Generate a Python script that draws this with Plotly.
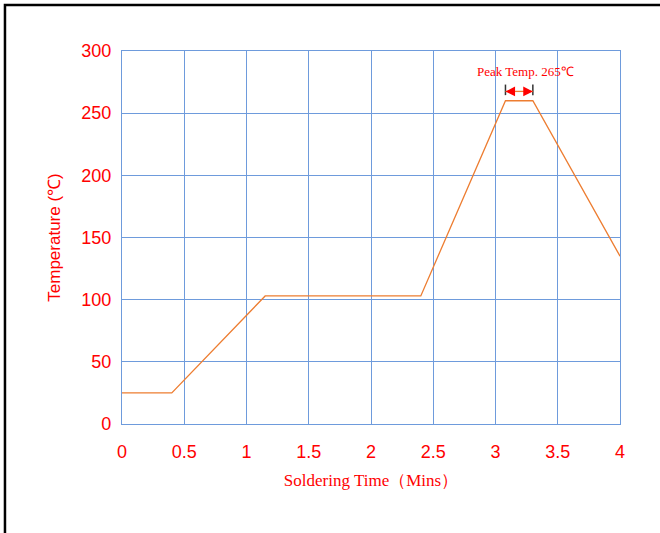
import plotly.graph_objects as go

time_min = [0, 0.4, 1.15, 2.4, 3.08, 3.3, 4]
temp_c = [25, 25, 103, 103, 260, 260, 135]
x_ticks = [0, 0.5, 1, 1.5, 2, 2.5, 3, 3.5, 4]
x_tick_labels = ["0", "0.5", "1", "1.5", "2", "2.5", "3", "3.5", "4"]
y_ticks = [0, 50, 100, 150, 200, 250, 300]
peak_start, peak_end = 3.08, 3.3
peak_label = "Peak Temp. 265℃"

RED = "#FF0000"
GRID = "#6E9BDC"
ORANGE = "#ED7D31"

fig = go.Figure()
fig.add_trace(go.Scatter(x=time_min, y=temp_c, mode="lines",
                         line=dict(color=ORANGE, width=1.3), hoverinfo="skip",
                         showlegend=False))

fig.update_layout(
    width=660, height=533,
    margin=dict(l=122, r=40, t=51, b=109),
    paper_bgcolor="white", plot_bgcolor="white",
    showlegend=False,
)
fig.update_xaxes(range=[0, 4], tickvals=x_ticks, ticktext=x_tick_labels,
                 showgrid=True, gridcolor=GRID, gridwidth=1.3,
                 showline=True, linecolor=GRID, linewidth=1.3, mirror=True,
                 zeroline=False, ticks="outside", ticklen=11, tickcolor="rgba(0,0,0,0)",
                 tickfont=dict(family="Liberation Sans", size=18, color=RED),
                 title=dict(text="Soldering Time（Mins）", standoff=13,
                            font=dict(family="Liberation Serif", size=17, color=RED)))
fig.update_yaxes(range=[0, 300], tickvals=y_ticks,
                 showgrid=True, gridcolor=GRID, gridwidth=1.3,
                 showline=True, linecolor=GRID, linewidth=1.3, mirror=True,
                 zeroline=False, ticks="outside", ticklen=6, tickcolor="rgba(0,0,0,0)",
                 tickfont=dict(family="Liberation Sans", size=18, color=RED),
                 title=dict(text="Temperature (℃)", standoff=16,
                            font=dict(family="Liberation Sans", size=17, color=RED)))

# outer frame (left, top; extends past right and bottom edges)
fig.add_shape(type="rect", xref="paper", yref="paper", x0=-0.235, x1=1.3, y0=-0.5, y1=1.1233,
              line=dict(color="black", width=2.5), fillcolor="rgba(0,0,0,0)")

# peak markers
arrow_y = 267.5
for xv in (peak_start, peak_end):
    fig.add_shape(type="line", xref="x", yref="y", x0=xv, x1=xv, y0=264.5, y1=273,
                  line=dict(color="#333333", width=1.5))
fig.add_shape(type="line", xref="x", yref="y", x0=peak_start, x1=peak_end, y0=arrow_y, y1=arrow_y,
              line=dict(color=ORANGE, width=1.3))
for xv, tail in ((peak_start, peak_start + 0.07), (peak_end, peak_end - 0.07)):
    fig.add_annotation(x=xv, y=arrow_y, ax=tail, ay=arrow_y, axref="x", ayref="y",
                       xref="x", yref="y", text="", showarrow=True,
                       arrowhead=2, arrowsize=1.2, arrowwidth=1.6, arrowcolor=RED)
fig.add_annotation(x=3.24, y=283.5, xref="x", yref="y", text=peak_label, showarrow=False,
                   font=dict(family="Liberation Serif", size=13, color=RED))

fig.write_html("out.html", config={"displayModeBar": False},
               post_script="document.body.style.margin='0';document.body.style.overflow='hidden';")
